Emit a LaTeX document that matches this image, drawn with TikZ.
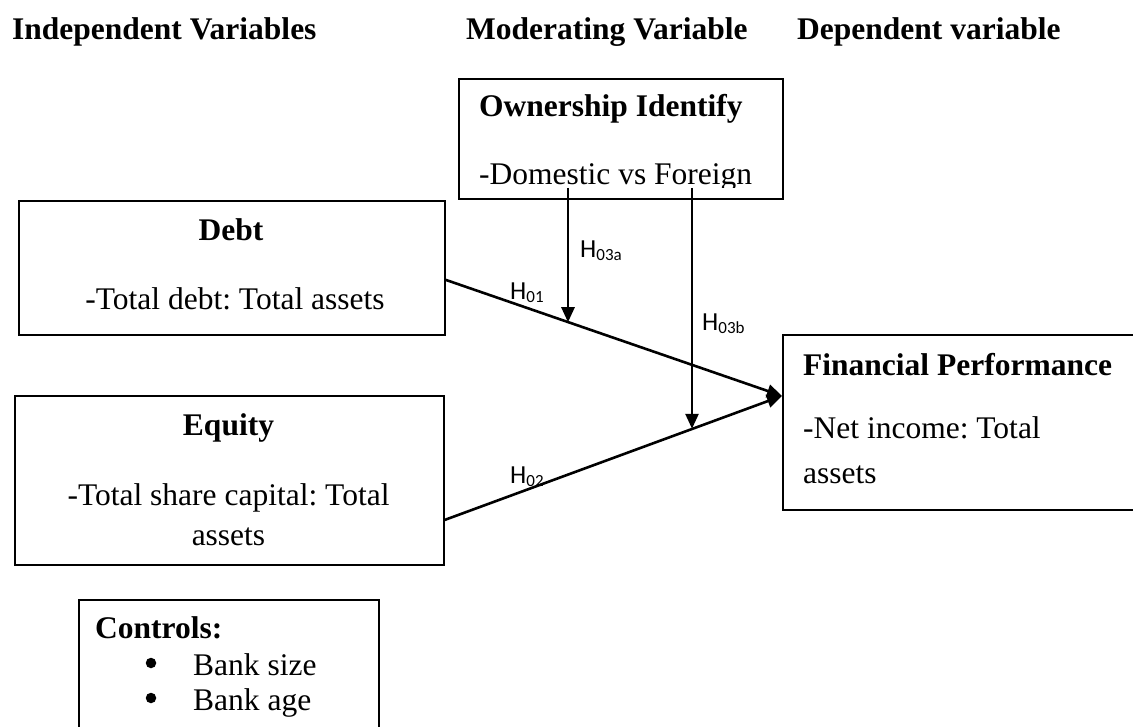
\documentclass[tikz,border=0pt]{standalone}
\usepackage{fontspec}
\setmainfont{Liberation Serif}
\newfontfamily\calib{Carlito}
\usetikzlibrary{arrows.meta,calc}
\frenchspacing
\tikzset{
  box/.style={draw, line width=1.8pt, inner sep=0pt, anchor=north west},
  txt/.style={inner sep=0pt, font=\fontsize{31.5}{36}\selectfont},
  btxt/.style={inner sep=0pt, font=\fontsize{31.5}{36}\selectfont\bfseries},
  bul/.style={circle, fill=black, inner sep=0pt, minimum size=10.5pt},
  hlab/.style={inner sep=0pt, anchor=base west, font=\calib\fontsize{26}{28}\selectfont},
  link/.style={line width=2.6pt, -{Triangle[length=15pt,width=13pt]}},
}
\newcommand{\hyp}[1]{H\raisebox{-3pt}{\fontsize{17}{17}\selectfont #1}}
\begin{document}
\begin{tikzpicture}[x=1pt,y=-1pt]
\clip (0,0) rectangle (1133,727);
% headers
\node[btxt, anchor=base west] (h1) at (12,40) {Independent Variables};
\node[btxt, anchor=base west] (h2) at (466,40) {Moderating Variable};
\node[btxt, anchor=base west] (h3) at (797,40) {Dependent variable};
% boxes
\node[box, minimum width=324pt, minimum height=120pt] (own) at (458,78) {};
\node[box, minimum width=426pt, minimum height=134pt] (debt) at (18,200) {};
\node[box, minimum width=429pt, minimum height=169pt] (eq) at (14,395) {};
\node[box, minimum width=400pt, minimum height=175pt] (fp) at (782,334) {};
\node[box, minimum width=300pt, minimum height=200pt] (ctl) at (78,599) {};
% ownership texts
\node[btxt, anchor=base west] (ownt) at (479,117) {Ownership Identify};
\begin{scope}
  \clip (458,78) rectangle (782,188);
  \node[txt, anchor=base west] (owns) at (479,185) {-Domestic vs Foreign};
\end{scope}
% debt texts
\node[btxt, anchor=base] (debtt) at (231,241) {Debt};
\node[txt, anchor=base] (debts) at (235,310) {-Total debt: Total assets};
% equity texts
\node[btxt, anchor=base] (eqt) at (228.5,435) {Equity};
\node[txt, anchor=base] (eqs1) at (228.5,505) {-Total share capital: Total};
\node[txt, anchor=base] (eqs2) at (228.5,545) {assets};
% financial performance texts
\node[btxt, anchor=base west] (fpt) at (803,375) {Financial Performance};
\node[txt, anchor=base west] (fps1) at (803,438) {-Net income: Total};
\node[txt, anchor=base west] (fps2) at (803,483) {assets};
% controls
\node[btxt, anchor=base west] (ctlt) at (95,638) {Controls:};
\node[bul] (b1) at (151,663) {};
\node[txt, anchor=base west] (c1) at (193,675) {Bank size};
\node[bul] (b2) at (151,698) {};
\node[txt, anchor=base west] (c2) at (193,710) {Bank age};
% connectors
\coordinate (d1) at ([yshift=-12pt]debt.east);
\coordinate (e1) at ([yshift=-39.5pt]eq.east);
\coordinate (tip) at ([yshift=26.5pt]fp.west);
\draw[link] (d1) -- (tip);
\draw[link] (e1) -- (tip);
\path (d1) -- (tip) coordinate[pos=0.365] (a1);
\path (e1) -- (tip) coordinate[pos=0.735] (a2);
\coordinate (m1) at (568,188);
\coordinate (m2) at (692,188);
\draw[link] (m1) -- (m1 |- a1);
\draw[link] (m2) -- (m2 |- a2);
% hypothesis labels
\node[hlab] (l01) at (510,300) {\hyp{01}};
\node[hlab] (l02) at (510,483) {\hyp{02}};
\node[hlab] (l3a) at (580,258) {\hyp{03a}};
\node[hlab] (l3b) at (702,331) {\hyp{03b}};
\end{tikzpicture}
\end{document}
